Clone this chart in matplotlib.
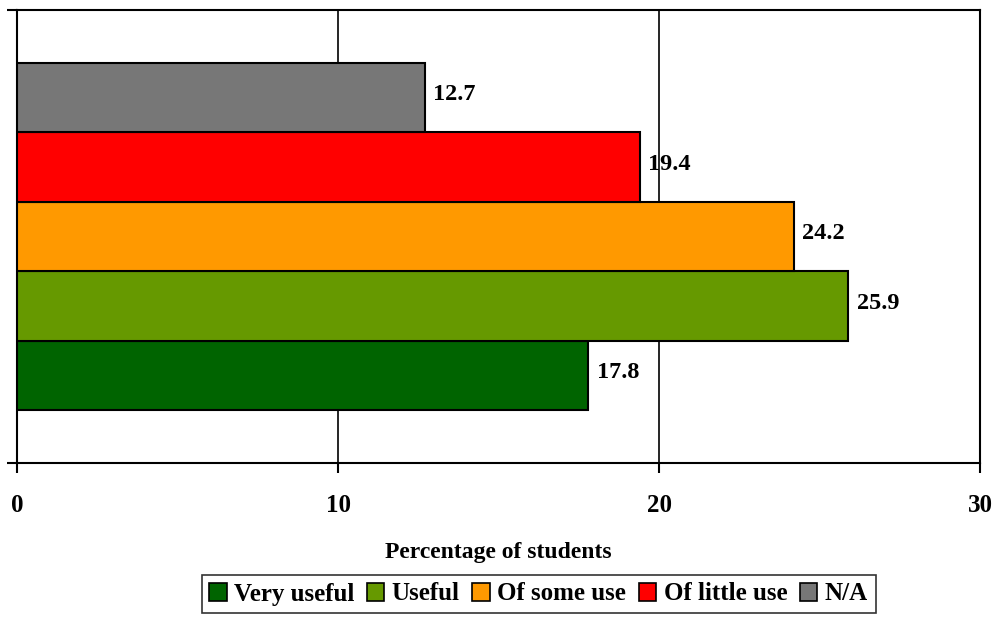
import matplotlib
matplotlib.use("Agg")
import matplotlib.pyplot as plt
from matplotlib.patches import Patch

series = ["Very useful", "Useful", "Of some use", "Of little use", "N/A"]
values = [17.8, 25.9, 24.2, 19.4, 12.7]
colors = ["#006400", "#669900", "#FF9900", "#FF0000", "#777777"]
xticks = [0, 10, 20, 30]

plt.rcParams['font.family'] = ['Liberation Serif', 'DejaVu Serif']
plt.rcParams['font.weight'] = 'bold'

fig = plt.figure(figsize=(9.94, 6.2), dpi=100)
W, H = 994, 620
L, R, T, B = 17, 980, 10, 463
ax = fig.add_axes([L / W, (H - B) / H, (R - L) / W, (B - T) / H])

h = 69.5 / (B - T)
center = 0.5
for i, (s, v, c) in enumerate(zip(series, values, colors)):
    y = center + (i - 2) * h
    ax.barh(y, v, height=h, color=c, edgecolor="black", linewidth=1.5, zorder=3)
    ax.annotate(f"{v:.1f}", xy=(v, y), xytext=(6, 2), textcoords="offset points",
                va="center", ha="left", fontsize=17.5, fontweight="bold", zorder=4)

ax.set_xlim(0, 30)
ax.set_ylim(0, 1)
ax.set_xticks(xticks)
ax.set_xticklabels([str(t) for t in xticks], fontsize=18, fontweight="bold")
ax.set_yticks([0, 1])
ax.set_yticklabels([])
ax.tick_params(axis="x", direction="out", length=7, width=1.5, pad=15)
ax.tick_params(axis="y", direction="out", length=7, width=1.5)
for sp in ax.spines.values():
    sp.set_linewidth(1.5)
    sp.set_color("black")
ax.xaxis.grid(True, color="black", linewidth=1.2, zorder=0)
ax.set_axisbelow(True)
ax.set_xlabel("Percentage of students", fontsize=17, fontweight="bold", labelpad=18)

handles = [Patch(facecolor=c, edgecolor="black", linewidth=1.2, label=s) for s, c in zip(series, colors)]
leg = fig.legend(handles=handles, loc="center", bbox_to_anchor=(538.5 / W, 1 - 594 / H), ncol=5,
                 frameon=True, fancybox=False, edgecolor="black",
                 handlelength=0.7, handleheight=0.7, handletextpad=0.3, columnspacing=0.5,
                 borderpad=0.3, borderaxespad=0, prop={"weight": "bold", "size": 18})
leg.get_frame().set_linewidth(1.2)

fig.savefig("out.png", dpi=100)
